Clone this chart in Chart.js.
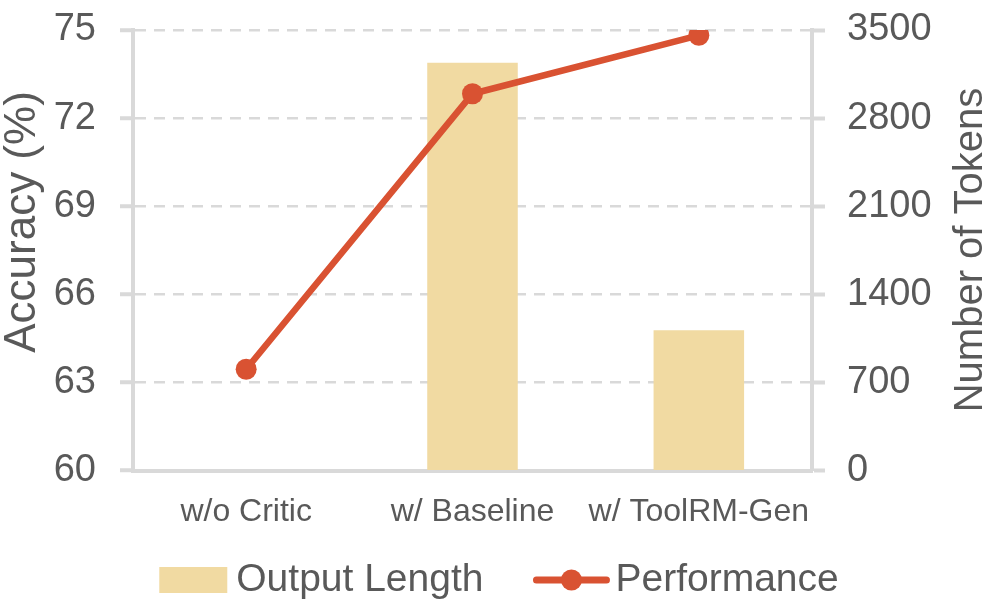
<!DOCTYPE html>
<html>
<head>
<meta charset="utf-8">
<script src="https://cdn.jsdelivr.net/npm/chart.js@4/dist/chart.umd.min.js"></script>
<style>
  html, body { margin: 0; padding: 0; background: #fff; }
</style>
</head>
<body>
<canvas id="chart" width="998" height="615"></canvas>
<script>
// ---- DATA ----
const categories = ['w/o Critic', 'w/ Baseline', 'w/ ToolRM-Gen'];
const outputLength = [null, 3240, 1115];    // Number of Tokens (right axis, bars)
const performance = [63.45, 72.83, 74.82];  // Accuracy % (left axis, line)
const accuracyTicks = [60, 63, 66, 69, 72, 75];
const tokenTicks = [0, 700, 1400, 2100, 2800, 3500];

// ---- STYLE ----
const FONT = "'Liberation Sans', Arial, sans-serif";
const TEXT = '#595959';
const AXIS = '#d9d9d9';
const BAR_COLOR = '#f1daa2';
const LINE_COLOR = '#d95232';

// titles + legend drawn by hand (right title reads bottom-to-top, legend needs line+dot icon)
const extras = {
  id: 'extras',
  afterDraw(chart) {
    const ctx = chart.ctx;
    ctx.save();
    ctx.fillStyle = TEXT;
    ctx.textAlign = 'center';
    ctx.textBaseline = 'middle';

    ctx.font = '44px ' + FONT;
    ctx.save();
    ctx.translate(23, 222);
    ctx.rotate(-Math.PI / 2);
    ctx.fillText('Accuracy (%)', 0, 0);
    ctx.restore();

    ctx.font = '40px ' + FONT;
    ctx.save();
    ctx.translate(971, 250);
    ctx.rotate(-Math.PI / 2);
    ctx.fillText('Number of Tokens', 0, 0);
    ctx.restore();

    // legend
    ctx.font = '39px ' + FONT;
    ctx.textAlign = 'left';
    const labels = chart.data.datasets.map(d => d.label);
    const w1 = ctx.measureText(labels[0]).width;
    const w2 = ctx.measureText(labels[1]).width;
    const boxW = 68, iconW = 76;
    const total = boxW + 9 + w1 + 50 + iconW + 6 + w2;
    let x = 499 - total / 2;
    const y = 580;

    ctx.fillStyle = BAR_COLOR;
    ctx.fillRect(x, y - 13, boxW, 26);
    x += boxW + 9;
    ctx.fillStyle = TEXT;
    ctx.fillText(labels[0], x, y);
    x += w1 + 50;

    ctx.strokeStyle = LINE_COLOR;
    ctx.lineWidth = 7;
    ctx.lineCap = 'round';
    ctx.beginPath();
    ctx.moveTo(x + 3, y);
    ctx.lineTo(x + iconW - 3, y);
    ctx.stroke();
    ctx.fillStyle = LINE_COLOR;
    ctx.beginPath();
    ctx.arc(x + iconW / 2, y, 10.5, 0, Math.PI * 2);
    ctx.fill();
    x += iconW + 6;
    ctx.fillStyle = TEXT;
    ctx.fillText(labels[1], x, y);
    ctx.restore();
  }
};

// drop the auto padding Chart.js adds for half tick labels, so the plot box is set by layout.padding
function noAutoPad(s) {
  s.paddingTop = 0;
  s.paddingBottom = 0;
  s.paddingLeft = 0;
  s.paddingRight = 0;
}

const ctx = document.getElementById('chart').getContext('2d');
const chart = new Chart(ctx, {
  type: 'bar',
  data: {
    labels: categories,
    datasets: [
      {
        type: 'bar',
        label: 'Output Length',
        data: outputLength,
        yAxisID: 'y1',
        backgroundColor: BAR_COLOR,
        barPercentage: 0.4,
        categoryPercentage: 1.0,
        order: 1,
      },
      {
        type: 'line',
        label: 'Performance',
        data: performance,
        yAxisID: 'y',
        borderColor: LINE_COLOR,
        backgroundColor: LINE_COLOR,
        borderWidth: 6.5,
        pointRadius: 10.5,
        pointBorderWidth: 0,
        pointBackgroundColor: LINE_COLOR,
        tension: 0,
        order: 0,
      }
    ]
  },
  options: {
    responsive: false,
    animation: false,
    devicePixelRatio: 1,
    layout: { padding: { top: 30, bottom: 70, left: 0, right: 0 } },
    plugins: {
      legend: { display: false },
      tooltip: { enabled: false },
    },
    scales: {
      x: {
        afterFit: noAutoPad,
        grid: { display: false },
        border: { display: true, color: AXIS, width: 4 },
        ticks: {
          font: { family: FONT, size: 32 }, color: TEXT, padding: 14,
          maxRotation: 0, minRotation: 0, autoSkip: false,
        },
      },
      y: {
        position: 'left',
        min: 60,
        max: 75,
        afterBuildTicks: s => { s.ticks = accuracyTicks.map(v => ({ value: v })); },
        afterFit: s => { s.width = 133; noAutoPad(s); },
        grid: {
          color: AXIS,
          lineWidth: 2.5,
          tickLength: 13,
          tickWidth: 4,
          tickColor: AXIS,
          tickBorderDash: [],
        },
        border: { color: AXIS, width: 4, dash: [11, 8] },
        ticks: {
          font: { family: FONT, size: 38 }, color: TEXT, padding: 24,
          callback: v => String(v),
        },
      },
      y1: {
        position: 'right',
        min: 0,
        max: 3500,
        afterBuildTicks: s => { s.ticks = tokenTicks.map(v => ({ value: v })); },
        afterFit: s => { s.width = 186; noAutoPad(s); },
        grid: {
          drawOnChartArea: false,
          tickLength: 13,
          tickWidth: 4,
          tickColor: AXIS,
          tickBorderDash: [],
        },
        border: { color: AXIS, width: 4 },
        ticks: {
          font: { family: FONT, size: 38 }, color: TEXT, padding: 22,
          callback: v => String(v),
        },
      }
    }
  },
  plugins: [extras]
});
</script>
</body>
</html>
